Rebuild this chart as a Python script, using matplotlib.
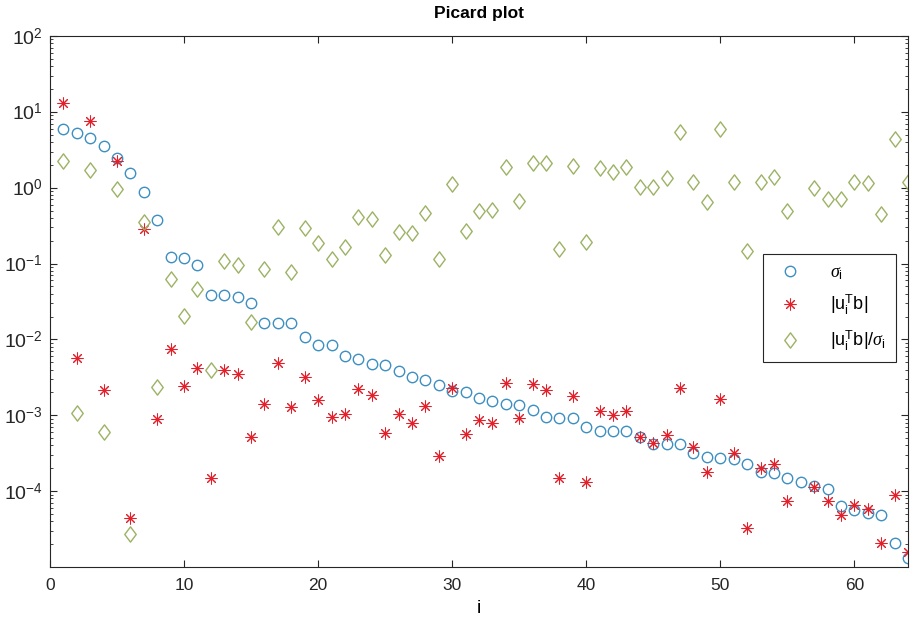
import numpy as np
import matplotlib
matplotlib.use('Agg')
import matplotlib.pyplot as plt
from matplotlib.path import Path

plt.rcParams['font.family'] = ['Liberation Sans', 'DejaVu Sans']
plt.rcParams['mathtext.fontset'] = 'custom'
plt.rcParams['mathtext.rm'] = 'Liberation Sans'
plt.rcParams['mathtext.it'] = 'Liberation Serif:italic'

# singular values sigma_i, i = 1..64
sigma = [5.9, 5.2, 4.5, 3.5, 2.5, 1.58, 0.87, 0.376, 0.121, 0.117,
         0.095, 0.038, 0.038, 0.0366, 0.030, 0.0166, 0.0166, 0.0166, 0.0109, 0.0085,
         0.0085, 0.00605, 0.00547, 0.0047, 0.00456, 0.00384, 0.0032, 0.0029, 0.00253, 0.0021,
         0.00203, 0.0017, 0.00153, 0.00141, 0.00135, 0.00117, 0.00096, 0.00093, 0.00093, 0.00071,
         0.00063, 0.00063, 0.00063, 0.000525, 0.00042, 0.00042, 0.00042, 0.00032, 0.000285, 0.000276,
         0.000263, 0.000228, 0.00018, 0.000172, 0.00015, 0.000133, 0.000117, 0.000106, 6.4e-5, 5.6e-5,
         5.1e-5, 4.8e-5, 2.05e-5, 1.3e-5]

# |u_i^T b|  (nan = not drawn)
utb = [13.2, 0.00564, 7.6, 0.00215, 2.27, 4.4e-5, 0.283, 0.00089, 0.0075, 0.00245,
       0.00416, 0.000148, 0.0040, 0.0035, 0.00051, 0.00141, 0.00494, 0.00127, 0.00315, 0.00157,
       0.00096, 0.00103, 0.00222, 0.00185, 0.00059, 0.00103, 0.00078, 0.00134, 0.000293, 0.00229,
       0.00056, 0.00087, 0.00078, 0.00264, 0.00093, 0.00256, 0.00215, 0.000148, 0.0018, 0.000133,
       0.00114, 0.00101, 0.00114, 0.000525, 0.000437, 0.00055, 0.00226, 0.000386, 0.000177, 0.00166,
       0.00032, 3.3e-5, 0.000204, 0.000228, 7.4e-5, np.nan, 0.000115, 7.4e-5, 4.8e-5, 6.6e-5,
       5.9e-5, 2.1e-5, 8.9e-5, 1.6e-5]

# |u_i^T b| / sigma_i
ratio = [2.25, 0.00108, 1.71, 0.0006, 0.96, 2.7e-5, 0.356, 0.00233, 0.062, 0.0204,
         0.0457, 0.00395, 0.109, 0.096, 0.0171, 0.084, 0.30, 0.078, 0.29, 0.185,
         0.114, 0.167, 0.415, 0.387, 0.13, 0.263, 0.25, 0.469, 0.114, 1.11,
         0.27, 0.50, 0.51, 1.89, 0.675, 2.14, 2.14, 0.158, 1.95, 0.195,
         1.82, 1.6, 1.89, 1.03, 1.03, 1.36, 5.48, 1.18, 0.64, 5.94,
         1.18, 0.148, 1.18, 1.4, 0.5, np.nan, 0.98, 0.70, 0.72, 1.18,
         1.15, 0.447, 4.38, 1.2]

yticks = [1e-4, 1e-3, 1e-2, 1e-1, 1e0, 1e1, 1e2]
ytick_labels = [r'$10^{-4}$', r'$10^{-3}$', r'$10^{-2}$', r'$10^{-1}$',
                r'$10^{0}$', r'$10^{1}$', r'$10^{2}$']

i = np.arange(1, len(sigma) + 1)

# MATLAB-style diamond (taller than wide)
diamond = Path([(0, 1), (0.75, 0), (0, -1), (-0.75, 0), (0, 1)],
               [Path.MOVETO, Path.LINETO, Path.LINETO, Path.LINETO, Path.CLOSEPOLY])

fig = plt.figure(figsize=(9.12, 6.25), dpi=100)
ax = fig.add_axes([0.0548, 0.0928, 0.9408, 0.8496])

ax.semilogy(i, sigma, 'o', mfc='none', mec='#3d8fc2', ms=7.5, mew=1.0, label=r'$\sigma_{\rm i}$')
ax.semilogy(i, utb, marker=(8, 2, 0), ls='none', color='#e0202a', ms=8.5, mew=0.75,
            label=r'$|{\rm u}_{\rm i}^{\rm T}{\rm b}|$')
ax.semilogy(i, ratio, marker=diamond, ls='none', mfc='none', mec='#9cb264', ms=11, mew=1.0,
            label=r'$|{\rm u}_{\rm i}^{\rm T}{\rm b}|/\sigma_{\rm i}$')

ax.set_xlim(0, 64)
ax.set_ylim(1e-5, 1e2)
ax.set_xticks([0, 10, 20, 30, 40, 50, 60])
ax.set_yticks(yticks)
ax.set_yticklabels(ytick_labels, fontsize=14)
ax.tick_params(which='both', direction='in', top=True, right=True, colors='#262626',
               labelcolor='#262626')
ax.tick_params(axis='x', labelsize=12.5, pad=8)
ax.tick_params(axis='y', pad=5)
ax.tick_params(which='major', length=5)
ax.tick_params(which='minor', length=2.5)
for s in ax.spines.values():
    s.set_color('#262626')
    s.set_linewidth(0.8)

ax.set_title('Picard plot', fontsize=12.5, fontweight='bold', pad=13)
ax.set_xlabel('i', fontsize=14, labelpad=5)

leg = ax.legend(loc='center right', bbox_to_anchor=(0.986, 0.487), borderaxespad=0,
                fontsize=13, fancybox=False, edgecolor='#262626', framealpha=1,
                handletextpad=1.3, borderpad=0.55, labelspacing=0.6, handlelength=1.9)
leg.get_frame().set_linewidth(0.8)

plt.savefig('out.png', dpi=100)
